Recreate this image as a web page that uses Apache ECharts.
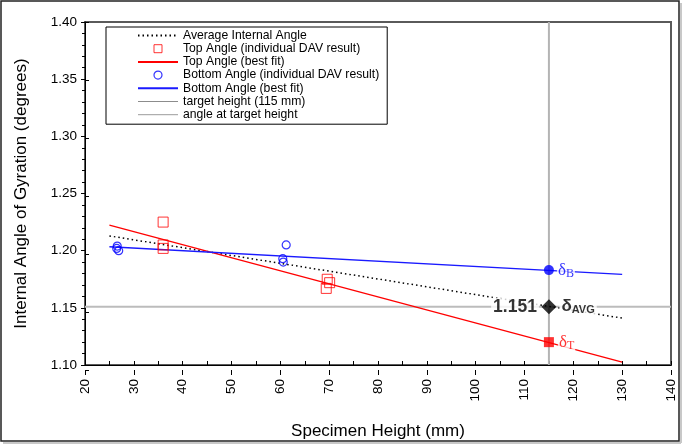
<!DOCTYPE html>
<html><head><meta charset="utf-8">
<script src="https://cdn.jsdelivr.net/npm/echarts@6/dist/echarts.min.js"></script>
<style>html,body{margin:0;padding:0;background:#fff}#c{width:683px;height:445px}</style>
</head><body><div id="c"></div>
<script>
// ---- data ----
const topX = [36, 36, 36, 69.6, 70.1, 69.4];
const topAngle = [1.225, 1.205, 1.202, 1.175, 1.172, 1.167];
const botX = [26.6, 26.9, 26.5, 61.2, 60.5, 60.6];
const botAngle = [1.204, 1.200, 1.202, 1.205, 1.193, 1.190];
const fitX = [25, 130];
const topFit = [1.2224, 1.1026];
const botFit = [1.2034, 1.1793];
const avgFit = [1.2129, 1.1410];
const targetHeight = 115;
const targetBottom = 1.183;
const targetAvg = 1.151;
const targetTop = 1.120;
const xMin = 20, xMax = 140, xStep = 10;
const yMin = 1.10, yMax = 1.40, yStep = 0.05;
const names = ['Average Internal Angle','Top Angle (individual DAV result)','Top Angle (best fit)',
  'Bottom Angle (individual DAV result)','Bottom Angle (best fit)','target height (115 mm)','angle at target height'];

const zip = (xs, ys) => xs.map((x, i) => [x, ys[i]]);
const F = 'Liberation Sans, Arial, sans-serif';
const grid = {left: 85, top: 22, right: 12, bottom: 75};
const noSym = {opacity: 0};

const chart = echarts.init(document.getElementById('c'), null, {renderer: 'canvas'});
chart.setOption({
  animation: false,
  backgroundColor: '#fff',
  textStyle: {fontFamily: F},
  grid: [
    Object.assign({show: true, borderColor: '#5a5a5a', borderWidth: 2, backgroundColor: 'transparent'}, grid),
    Object.assign({}, grid)
  ],
  xAxis: [
    {type: 'value', gridIndex: 0, min: xMin, max: xMax, interval: xStep,
     name: 'Specimen Height (mm)', nameLocation: 'middle', nameGap: 58,
     nameTextStyle: {fontSize: 17, color: '#000', fontFamily: F},
     axisLine: {lineStyle: {color: '#000', width: 1}},
     axisTick: {inside: true, length: 4, lineStyle: {color: '#000'}},
     minorTick: {show: true, splitNumber: 2, length: 4, lineStyle: {color: '#000'}},
     splitLine: {show: false},
     axisLabel: {rotate: 90, fontSize: 13.5, color: '#000', margin: 14, fontFamily: F}},
    {type: 'value', gridIndex: 1, min: xMin, max: xMax, interval: xStep,
     axisLine: {show: false}, axisTick: {inside: false, length: 5, lineStyle: {color: '#000'}},
     axisLabel: {show: false}, splitLine: {show: false}}
  ],
  yAxis: [
    {type: 'value', gridIndex: 0, min: yMin, max: yMax, interval: yStep,
     name: 'Internal Angle of Gyration (degrees)', nameLocation: 'middle', nameGap: 55,
     nameTextStyle: {fontSize: 17, color: '#000', fontFamily: F},
     axisLine: {show: true, lineStyle: {color: '#000', width: 1}},
     axisTick: {inside: false, length: 4, lineStyle: {color: '#000'}},
     minorTick: {show: true, splitNumber: 5, length: 3, lineStyle: {color: '#000'}},
     splitLine: {show: false},
     axisLabel: {fontSize: 13.5, color: '#000', margin: 8, fontFamily: F,
       formatter: v => v.toFixed(2)}},
    {type: 'value', gridIndex: 1, min: yMin, max: yMax, interval: yStep,
     axisLine: {show: false}, axisTick: {show: true, inside: true, length: 4, lineStyle: {color: '#000'}},
     axisLabel: {show: false}, splitLine: {show: false}}
  ],
  legend: {
    orient: 'vertical', left: 106, top: 27,
    padding: [2, 8, 3, 31],
    borderColor: '#000', borderWidth: 1, backgroundColor: '#fff',
    itemWidth: 40, itemHeight: 8, itemGap: 0.2,
    textStyle: {fontSize: 12.2, color: '#000', fontFamily: F, lineHeight: 13},
    data: [
      {name: names[0], itemStyle: noSym},
      {name: names[1], icon: 'path://M0,0 H10 V10 H0 Z', itemStyle: {borderWidth: 1, color: '#fff', borderColor: '#ff0000'}},
      {name: names[2], itemStyle: noSym},
      {name: names[3], icon: 'circle', itemStyle: {borderWidth: 1.2, color: '#fff', borderColor: '#0000ff'}},
      {name: names[4], itemStyle: noSym},
      {name: names[5], itemStyle: noSym, lineStyle: {width: 1, color: '#8c8c8c'}},
      {name: names[6], itemStyle: noSym, lineStyle: {width: 1, color: '#9c9c9c'}}
    ]
  },
  series: [
    {name: names[5], type: 'line', xAxisIndex: 0, yAxisIndex: 0, symbol: 'none', z: 1,
     data: [[targetHeight, yMin], [targetHeight, yMax]],
     lineStyle: {color: '#b4b4b4', width: 2}, itemStyle: {color: '#999'}},
    {name: names[6], type: 'line', symbol: 'none', z: 1,
     data: [[xMin, targetAvg], [xMax, targetAvg]],
     lineStyle: {color: '#bcbcbc', width: 2}, itemStyle: {color: '#999'}},
    {name: names[0], type: 'line', symbol: 'none', z: 2,
     data: zip(fitX, avgFit),
     lineStyle: {color: '#000', width: 1.5, type: [1.5, 3]}, itemStyle: {color: '#000'}},
    {name: names[2], type: 'line', symbol: 'none', z: 2,
     data: zip(fitX, topFit),
     lineStyle: {color: '#ff0000', width: 1.3}, itemStyle: {color: '#ff0000'}},
    {name: names[4], type: 'line', symbol: 'none', z: 2,
     data: zip(fitX, botFit),
     lineStyle: {color: '#1a1aff', width: 1.4}, itemStyle: {color: '#1a1aff'}},
    {name: names[1], type: 'scatter', symbol: 'rect', symbolSize: 10, z: 3,
     data: zip(topX, topAngle),
     itemStyle: {color: 'rgba(255,255,255,0)', borderColor: '#ff0000', borderWidth: 1}},
    {name: names[3], type: 'scatter', symbol: 'circle', symbolSize: 8, z: 3,
     data: zip(botX, botAngle),
     itemStyle: {color: 'rgba(255,255,255,0)', borderColor: '#0000ff', borderWidth: 1.2}},
    // target markers
    {type: 'scatter', symbol: 'circle', symbolSize: 10, z: 5,
     data: [[targetHeight, targetBottom]], itemStyle: {color: '#0000ff'},
     label: {show: true, position: 'right', distance: 3, backgroundColor: '#fff', padding: [0, 1],
       formatter: '{d|δ}{s|B}',
       rich: {d: {fontSize: 17, fontFamily: 'Liberation Serif', color: '#0000ff', lineHeight: 20},
              s: {fontSize: 12, fontFamily: 'Liberation Serif', color: '#0000ff', lineHeight: 20, padding: [8, 0, 0, 0]}}}},
    {type: 'scatter', symbol: 'diamond', symbolSize: 15, z: 5,
     data: [[targetHeight, targetAvg]], itemStyle: {color: '#000'},
     label: {show: true, position: 'right', distance: 3, backgroundColor: '#fff', padding: [0, 2],
       formatter: '{d|δ}{s|AVG}',
       rich: {d: {fontSize: 17, fontWeight: 'bold', fontFamily: F, color: '#000', lineHeight: 20},
              s: {fontSize: 11, fontWeight: 'bold', fontFamily: F, color: '#000', lineHeight: 20, padding: [7, 0, 0, 0]}}}},
    {type: 'scatter', symbol: 'circle', symbolSize: 0, z: 5,
     data: [[targetHeight, targetAvg]],
     label: {show: true, position: 'left', distance: 10, backgroundColor: '#fff', padding: [0, 2],
       fontSize: 17.5, fontWeight: 'bold', fontFamily: F, color: '#000',
       formatter: p => p.value[1].toFixed(3)}},
    {type: 'scatter', symbol: 'rect', symbolSize: 10, z: 5,
     data: [[targetHeight, targetTop]], itemStyle: {color: '#ff0000'},
     label: {show: true, position: 'right', distance: 4, backgroundColor: '#fff', padding: [0, 1],
       formatter: '{d|δ}{s|T}',
       rich: {d: {fontSize: 17, fontFamily: 'Liberation Serif', color: '#ff0000', lineHeight: 20},
              s: {fontSize: 12, fontFamily: 'Liberation Serif', color: '#ff0000', lineHeight: 20, padding: [8, 0, 0, 0]}}}}
  ],
  graphic: [
    {type: 'rect', shape: {x: 1, y: 1, width: 678, height: 440}, z: 100,
     style: {fill: 'none', stroke: '#222', lineWidth: 1.5}},
    {type: 'line', shape: {x1: 681, y1: 3, x2: 681, y2: 443}, z: 100, style: {stroke: '#c8c8c8', lineWidth: 2}},
    {type: 'line', shape: {x1: 3, y1: 443, x2: 681, y2: 443}, z: 100, style: {stroke: '#c8c8c8', lineWidth: 2}}
  ]
});
</script></body></html>
